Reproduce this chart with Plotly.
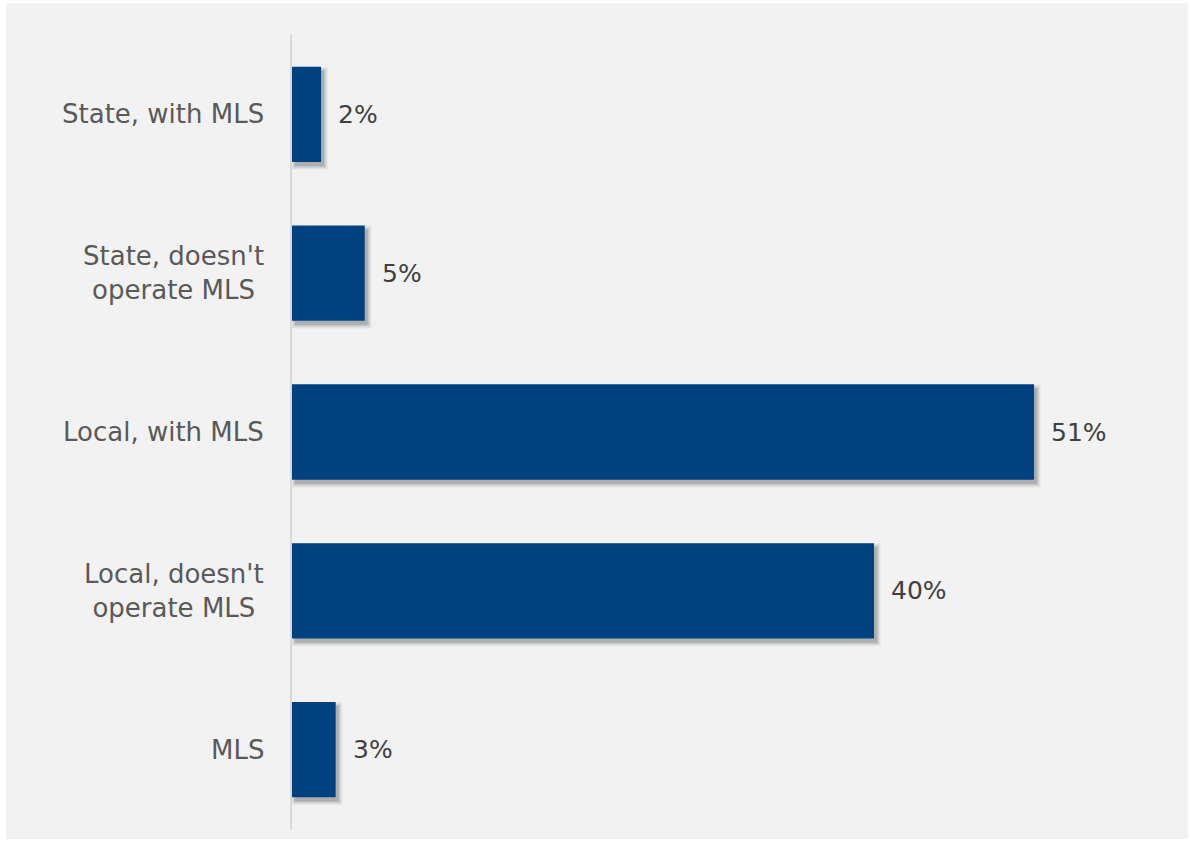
import plotly.graph_objects as go

# Share of respondents by association type
categories = [
    "State, with MLS",
    "State, doesn't<br>operate MLS",
    "Local, with MLS",
    "Local, doesn't<br>operate MLS",
    "MLS",
]
values = [2, 5, 51, 40, 3]
value_labels = ["2%", "5%", "51%", "40%", "3%"]

BAR_COLOR = "#00427f"
PANEL_COLOR = "#f2f2f2"
LABEL_FONT = "DejaVu Sans"
LABEL_SIZE = 26
VALUE_SIZE = 25

W, H = 1190, 841
M_L, M_R, M_T, M_B = 292, 25, 35, 12
X_MAX = 60
BAR_WIDTH = 0.6

plot_w = W - M_L - M_R
plot_h = H - M_T - M_B
px_x = X_MAX / plot_w                 # data units per pixel (x)
px_y = len(categories) / plot_h       # category units per pixel (y)

fig = go.Figure()

# soft drop shadow under each bar, built from a few translucent layers
shadow_dx, shadow_dy = 3, 4
for grow, alpha in [(4, 0.04), (3, 0.06), (2, 0.08), (1, 0.11), (0, 0.15)]:
    fig.add_trace(go.Bar(
        y=categories,
        x=[v + 2 * grow * px_x for v in values],
        base=(shadow_dx - grow) * px_x,
        orientation="h",
        width=BAR_WIDTH + 2 * grow * px_y,
        offset=-(BAR_WIDTH / 2) - grow * px_y + shadow_dy * px_y,
        marker=dict(color=f"rgba(60,60,60,{alpha})", line=dict(width=0)),
        hoverinfo="skip",
        showlegend=False,
    ))

fig.add_trace(go.Bar(
    y=categories,
    x=values,
    orientation="h",
    width=BAR_WIDTH,
    marker=dict(color=BAR_COLOR, line=dict(width=0)),
    showlegend=False,
))

annotations = []
# value labels to the right of each bar
for cat, v, lab in zip(categories, values, value_labels):
    annotations.append(dict(
        x=v, y=cat, xref="x", yref="y", text=lab, showarrow=False,
        xanchor="left", yanchor="middle", xshift=15,
        font=dict(family=LABEL_FONT, size=VALUE_SIZE, color="#404040"),
    ))
# category labels, lines centred within a right-aligned block
for cat in categories:
    annotations.append(dict(
        x=0, y=cat, xref="paper", yref="y", text=cat, showarrow=False,
        xanchor="right", yanchor="middle", align="center", xshift=-26,
        font=dict(family=LABEL_FONT, size=LABEL_SIZE, color="#595959"),
    ))

fig.update_layout(
    width=W, height=H,
    margin=dict(l=M_L, r=M_R, t=M_T, b=M_B, pad=0),
    paper_bgcolor="white",
    plot_bgcolor=PANEL_COLOR,
    barmode="overlay",
    annotations=annotations,
    shapes=[dict(
        type="rect", xref="paper", yref="paper", layer="below",
        x0=(6 - M_L) / plot_w, x1=(1188 - M_L) / plot_w,
        y0=(H - M_B - 839) / plot_h,
        y1=(H - M_B - 3) / plot_h,
        fillcolor=PANEL_COLOR, line=dict(width=0),
    )],
    xaxis=dict(range=[0, X_MAX], visible=False, fixedrange=True),
    yaxis=dict(
        autorange="reversed", showticklabels=False, ticks="",
        showgrid=False, zeroline=False,
        showline=True, linecolor="#d9d9d9", linewidth=2,
        fixedrange=True,
    ),
)

fig.write_html("out.html", config={"displayModeBar": False})
